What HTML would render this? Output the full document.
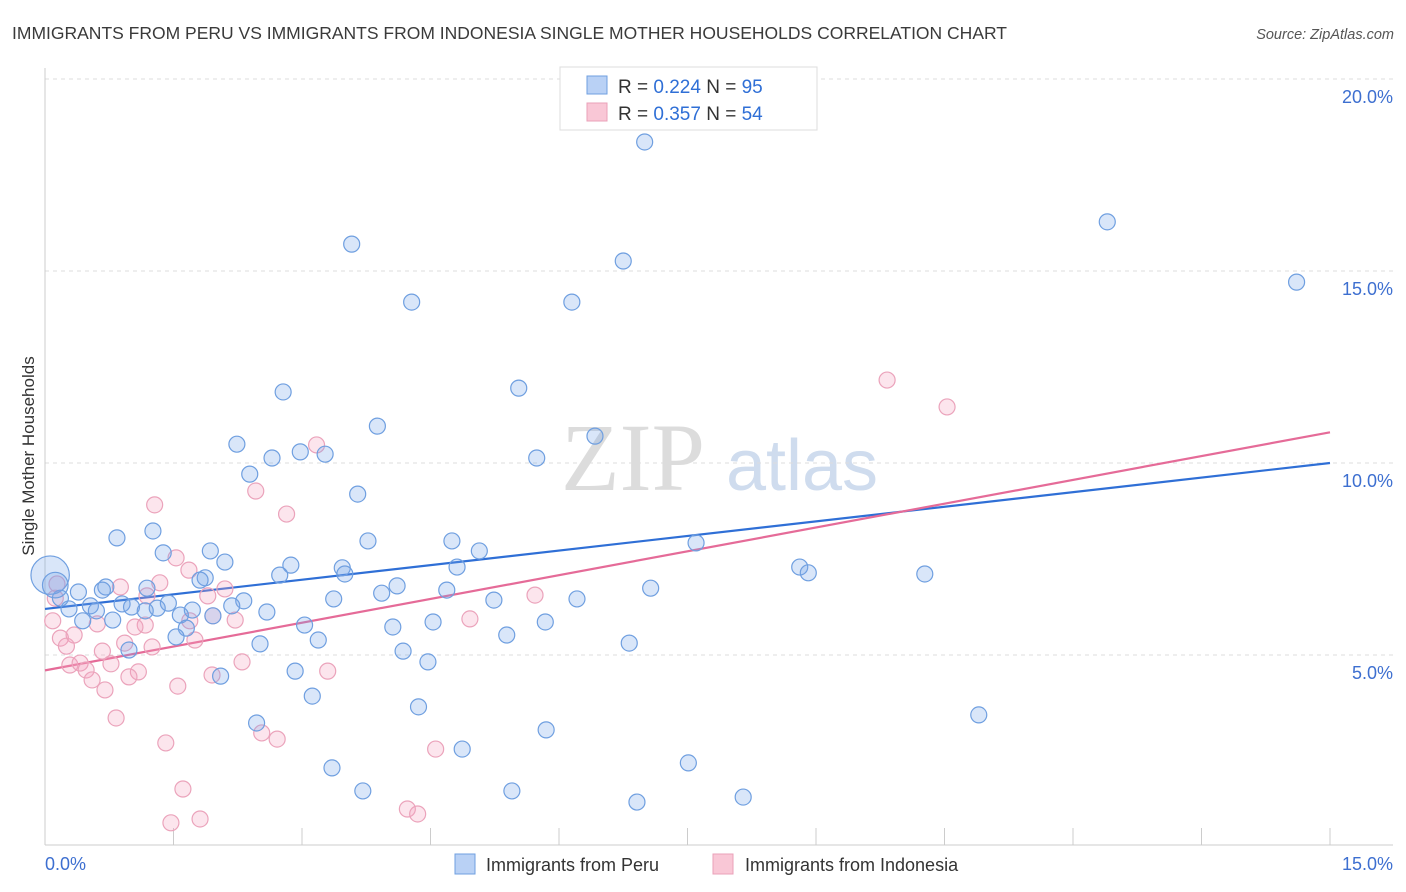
<!DOCTYPE html>
<html><head><meta charset="utf-8"><style>
body{margin:0;background:#fff;font-family:"Liberation Sans",sans-serif;}
svg{display:block}
</style></head><body>
<svg id="chart" width="1406" height="892">
<text x="12" y="39" font-size="17.5" fill="#3a3a3a">IMMIGRANTS FROM PERU VS IMMIGRANTS FROM INDONESIA SINGLE MOTHER HOUSEHOLDS CORRELATION CHART</text>
<text x="1394" y="39" font-size="14.5" fill="#555" text-anchor="end" font-style="italic">Source: ZipAtlas.com</text>
<text x="0" y="0" transform="translate(34,456) rotate(-90)" font-size="17" fill="#333" text-anchor="middle">Single Mother Households</text>
<g>
<text x="633" y="490" font-size="96" font-family="Liberation Serif,serif" fill="#dcdcdc" text-anchor="middle">ZIP</text>
<text x="802" y="490" font-size="72" fill="#cfdcee" text-anchor="middle">atlas</text>
</g>
<g id="grid"></g>
<g id="axes"></g>
<line id="blueLine" stroke="#2f6fd6" stroke-width="2.2"/>
<line id="pinkLine" stroke="#e56b98" stroke-width="2.2"/>
<g id="pts"></g>
<g>
<rect x="560" y="67" width="257" height="63" fill="#fff" stroke="#ddd"/>
<rect x="587" y="76" width="20" height="18" fill="#b9d1f5" stroke="#6f9fe0"/>
<rect x="587" y="103" width="20" height="18" fill="#f9c7d6" stroke="#eaa0b8"/>
<text x="618" y="93" font-size="19" fill="#333">R = <tspan fill="#2f6fd6">0.224</tspan>   N = <tspan fill="#2f6fd6">95</tspan></text>
<text x="618" y="120" font-size="19" fill="#333">R = <tspan fill="#2f6fd6">0.357</tspan>   N = <tspan fill="#2f6fd6">54</tspan></text>
</g>
<g>
<rect x="455" y="854" width="20" height="20" fill="#b9d1f5" stroke="#6f9fe0"/>
<text x="486" y="871" font-size="18" fill="#333">Immigrants from Peru</text>
<rect x="713" y="854" width="20" height="20" fill="#f9c7d6" stroke="#eaa0b8"/>
<text x="745" y="871" font-size="18" fill="#333">Immigrants from Indonesia</text>
</g>
</svg>
<script>
const xTicks=[0,1.5,3,4.5,6,7.5,9,10.5,12,13.5,15];
const yTicks=[5,10,15,20];
const yTickLabels=["5.0%","10.0%","15.0%","20.0%"];
const xTickLabels=["0.0%","15.0%"];
const blueTrend=[6.2,10.0];
const pinkTrend=[4.6,10.8];
const peruX=[7.00,12.40,14.61,3.58,6.75,4.28,6.15,2.78,5.53,3.88,6.42,2.24,2.65,2.98,3.27,5.74,2.39,3.65,1.26,0.84,3.77,4.75,7.60,1.38,1.93,5.07,2.10,2.87,3.47,4.81,8.81,8.91,3.50,10.27,2.74,1.87,1.81,0.71,0.67,1.19,4.11,7.07,3.93,4.69,0.39,0.18,3.37,2.32,5.24,6.21,0.90,1.44,1.01,0.53,0.28,0.60,1.31,2.18,1.17,1.72,2.59,1.58,1.96,0.44,0.79,3.03,4.53,5.84,4.06,1.65,5.39,1.53,3.19,6.82,2.51,0.98,4.18,4.47,2.92,2.05,3.12,4.36,10.90,2.47,5.85,4.87,7.51,3.35,5.45,3.71,8.15,6.91,0.06,0.12];
const peruY=[18.36,16.28,14.71,15.70,15.26,14.19,14.19,11.85,11.95,10.96,10.70,10.49,10.13,10.29,10.23,10.13,9.71,9.19,8.23,8.05,7.97,7.97,7.92,7.66,7.71,7.71,7.42,7.34,7.27,7.29,7.29,7.14,7.11,7.11,7.08,7.01,6.95,6.77,6.69,6.74,6.80,6.74,6.61,6.69,6.64,6.48,6.46,6.41,6.43,6.46,6.33,6.35,6.25,6.28,6.20,6.15,6.22,6.28,6.15,6.17,6.12,6.04,6.02,5.89,5.91,5.78,5.86,5.86,5.73,5.70,5.52,5.47,5.39,5.31,5.29,5.13,5.10,4.82,4.58,4.45,3.93,3.65,3.44,3.23,3.05,2.55,2.19,2.06,1.46,1.46,1.30,1.17,7.08,6.82];
const peruSize=[1,1,1,1,1,1,1,1,1,1,1,1,1,1,1,1,1,1,1,1,1,1,1,1,1,1,1,1,1,1,1,1,1,1,1,1,1,1,1,1,1,1,1,1,1,1,1,1,1,1,1,1,1,1,1,1,1,1,1,1,1,1,1,1,1,1,1,1,1,1,1,1,1,1,1,1,1,1,1,1,1,1,1,1,1,1,1,1,1,1,1,1,2.4,1.6];
const indoX=[9.83,10.53,3.17,2.46,1.28,2.82,1.53,1.68,1.34,0.88,2.10,5.72,1.90,1.19,0.12,2.22,1.96,1.69,1.17,0.61,0.09,4.96,1.05,0.18,0.34,1.75,0.93,0.25,1.25,0.67,2.30,0.29,0.41,0.77,0.48,3.30,1.09,0.55,1.95,0.98,1.55,0.70,0.83,2.53,2.71,1.41,4.56,1.61,4.23,4.35,1.47,1.81,0.14];
const indoY=[12.16,11.46,10.47,9.27,8.91,8.67,7.53,7.21,6.88,6.77,6.72,6.56,6.54,6.54,6.48,5.91,6.02,5.89,5.78,5.81,5.89,5.94,5.73,5.44,5.52,5.39,5.31,5.23,5.21,5.10,4.82,4.74,4.79,4.77,4.61,4.58,4.56,4.35,4.48,4.43,4.19,4.09,3.36,2.97,2.81,2.71,2.55,1.51,0.99,0.86,0.63,0.73,6.85];
const X0=45,X1=1330,XMAX=15,Y0=847,YPER=38.4;
const sx=v=>X0+(X1-X0)*v/XMAX;
const sy=v=>Y0-v*YPER;
const NS="http://www.w3.org/2000/svg";
function mk(t,a,p){const e=document.createElementNS(NS,t);for(const k in a)e.setAttribute(k,a[k]);p.appendChild(e);return e;}
const grid=document.getElementById('grid');
yTicks.forEach((v,i)=>{
 const l=mk('line',{x1:45,x2:1393,y1:sy(v),y2:sy(v),stroke:'#ddd','stroke-dasharray':'4,4'},grid);
 
 
 const t=mk('text',{x:1393,y:sy(v)+24,'font-size':18,fill:'#3d6fd0','text-anchor':'end'},grid);
 t.textContent=yTickLabels[i];
 
 
});
const ax=document.getElementById('axes');
let a1=mk('line',{x1:45,x2:45,y1:68,y2:845,stroke:'#ccc'},ax);


let a2=mk('line',{x1:45,x2:1393,y1:845,y2:845,stroke:'#ccc'},ax);


xTicks.forEach(v=>{
 const l=mk('line',{x1:sx(v),x2:sx(v),y1:828,y2:845,stroke:'#ccc'},ax);
 
 
});
let t0=mk('text',{x:45,y:870,'font-size':18,fill:'#3d6fd0'},ax);t0.textContent=xTickLabels[0];


let t1=mk('text',{x:1393,y:870,'font-size':18,fill:'#3d6fd0','text-anchor':'end'},ax);t1.textContent=xTickLabels[1];


const bl=document.getElementById('blueLine');
bl.setAttribute('x1',sx(0));bl.setAttribute('x2',sx(15));bl.setAttribute('y1',sy(blueTrend[0]));bl.setAttribute('y2',sy(blueTrend[1]));
const pl=document.getElementById('pinkLine');
pl.setAttribute('x1',sx(0));pl.setAttribute('x2',sx(15));pl.setAttribute('y1',sy(pinkTrend[0]));pl.setAttribute('y2',sy(pinkTrend[1]));
const pts=document.getElementById('pts');
indoX.forEach((v,i)=>{
 const c=mk('circle',{cx:sx(v),cy:sy(indoY[i]),r:8,fill:'rgba(244,160,190,0.28)',stroke:'#eba3bb','stroke-width':1.2},pts);
 
 
});
peruX.forEach((v,i)=>{
 const c=mk('circle',{cx:sx(v),cy:sy(peruY[i]),r:8*peruSize[i],fill:'rgba(120,165,235,0.28)',stroke:'#6f9fe0','stroke-width':1.2},pts);
 
 
});
</script>
</body></html>
